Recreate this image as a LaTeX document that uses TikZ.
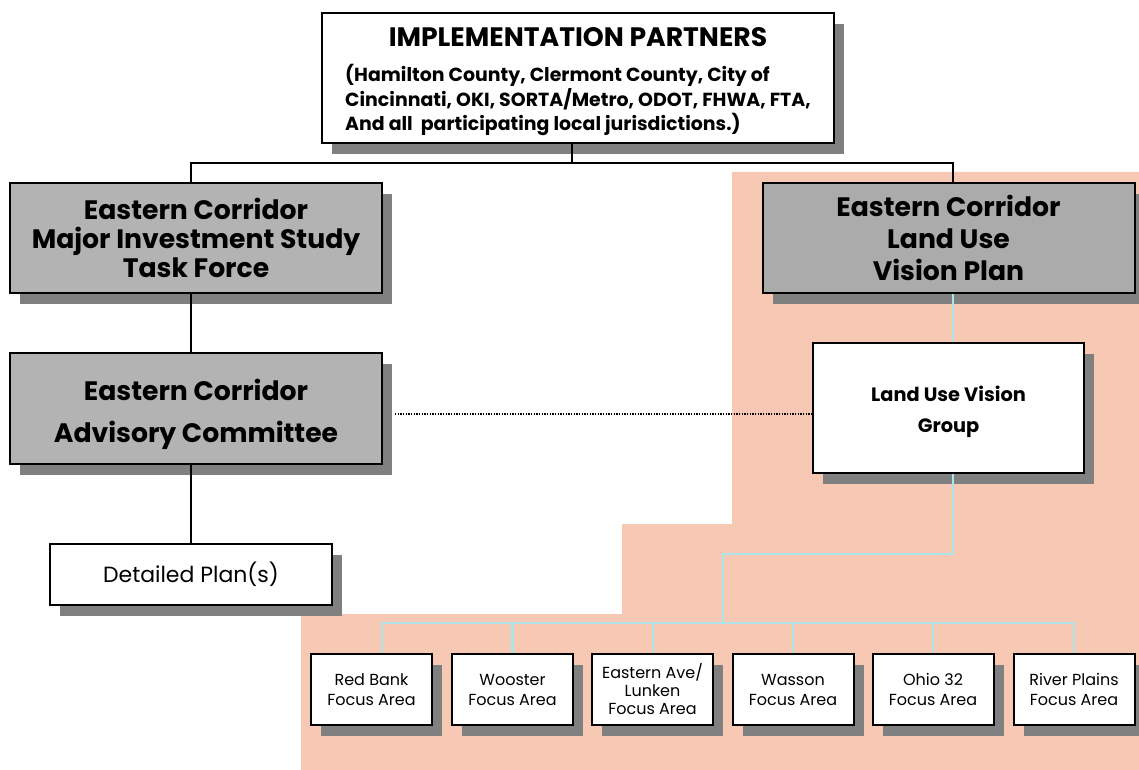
\documentclass[tikz,border=0pt]{standalone}
\usepackage{fontspec}
\setmainfont{Poppins}
\usetikzlibrary{shadows}
\definecolor{pinkbg}{HTML}{F7C8B4}
\definecolor{cyanln}{HTML}{ACE4EA}
\definecolor{boxgray}{HTML}{B3B3B3}
\definecolor{boxgrayr}{HTML}{ABABAB}
\definecolor{shadowgray}{HTML}{808080}
\tikzset{
  shad/.style={drop shadow={shadow xshift=7.5pt, shadow yshift=-8.25pt, opacity=1, fill=shadowgray}},
  basebox/.style={draw=black, line width=1.5pt, inner sep=0pt, align=center, shad},
  graybox/.style={basebox, fill=boxgray, font=\fontsize{20}{22}\selectfont\bfseries},
  whitebox/.style={basebox, fill=white},
  focusbox/.style={whitebox, minimum width=90.75pt, minimum height=53.25pt, font=\fontsize{12}{15}\selectfont},
  blk/.style={draw=black, line width=1.5pt},
  cy/.style={draw=cyanln, line width=2.1pt},
  dotln/.style={draw=black, line width=1.6pt, dash pattern=on 1pt off 1pt}
}
\begin{document}
\begin{tikzpicture}[x=0.75pt, y=-0.75pt]
\useasboundingbox (0,0) rectangle (1139,770);
\fill[white] (0,0) rectangle (1139,770);
% pink background
\fill[pinkbg] (732,172) -- (1139,172) -- (1139,770) -- (301,770) -- (301,614) -- (622,614) -- (622,524) -- (732,524) -- cycle;

% boxes
\node[whitebox, minimum width=384pt, minimum height=97.5pt] (top) at (578,78) {%
  \rule{0pt}{21pt}{\fontsize{20}{22}\selectfont\bfseries IMPLEMENTATION PARTNERS}\\[12.5pt]
  {\fontsize{14.2}{17.5}\selectfont\bfseries\begin{tabular}{@{}l@{}}
  (Hamilton County, Clermont County, City of\\
  Cincinnati, OKI, SORTA/Metro, ODOT, FHWA, FTA,\\
  And all\ \ participating local jurisdictions.)
  \end{tabular}}};

\node[graybox, minimum width=279pt, minimum height=82.5pt] (mis) at (196,238) {Eastern Corridor\\Major Investment Study\\Task Force};
\node[graybox, minimum width=279pt, minimum height=83.25pt, font=\fontsize{20}{31}\selectfont\bfseries] (eac) at (196,408.5) {\rule{0pt}{25pt}Eastern Corridor\\Advisory Committee};
\node[whitebox, minimum width=211.5pt, minimum height=45.75pt, font=\fontsize{16.5}{18}\selectfont] (dp) at (191,574.5) {Detailed Plan(s)};

\node[graybox, fill=boxgrayr, minimum width=279pt, minimum height=82.5pt, font=\fontsize{20}{24}\selectfont\bfseries] (luvp) at (948.5,238) {\rule{0pt}{14pt}Eastern Corridor\\Land Use\\Vision Plan};
\node[whitebox, minimum width=203pt, minimum height=97.5pt, font=\fontsize{14.5}{23}\selectfont\bfseries] (luvg) at (948.5,408) {\rule{0pt}{17pt}Land Use Vision\\Group};

\node[focusbox] (f1) at (371.5,689.5) {Red Bank\\Focus Area};
\node[focusbox] (f2) at (512.5,689.5) {Wooster\\Focus Area};
\node[focusbox, font=\fontsize{12}{13.5}\selectfont] (f3) at (652.5,689.5) {Eastern Ave/\\Lunken\\Focus Area};
\node[focusbox] (f4) at (793,689.5) {Wasson\\Focus Area};
\node[focusbox] (f5) at (933,689.5) {Ohio 32\\Focus Area};
\node[focusbox] (f6) at (1074,689.5) {River Plains\\Focus Area};

% black connectors
\coordinate (jl) at (191,163);
\coordinate (jt) at (572,163);
\coordinate (jr) at (953,163);
\draw[blk] (jt |- top.south) -- (jt);
\draw[blk] (jl |- mis.north) -- (jl) -- (jr) -- (jr |- luvp.north);
\draw[blk] (jl |- mis.south) -- (jl |- eac.north);
\draw[blk] (jl |- eac.south) -- (jl |- dp.north);

% dotted
\coordinate (ds) at (395,414);
\draw[dotln] (ds) -- (ds -| luvg.west);

% cyan connectors
\coordinate (c1) at (953,554);
\coordinate (c2) at (723,554);
\coordinate (c3) at (723,623);
\coordinate (hl) at (382,623);
\coordinate (hr) at (1074,623);
\draw[cy] (luvp.south -| c1) -- (luvg.north -| c1);
\draw[cy] (luvg.south -| c1) -- (c1) -- (c2) -- (c3);
\draw[cy] (hl) -- (hr);
\draw[cy] (hl) -- (hl |- f1.north);
\draw[cy] (f2.north |- hl) -- (f2.north);
\draw[cy] (653,623) -- (653,0 |- f3.north);
\draw[cy] (f4.north |- hl) -- (f4.north);
\draw[cy] (f5.north |- hl) -- (f5.north);
\draw[cy] (hr) -- (hr |- f6.north);
\end{tikzpicture}
\end{document}
